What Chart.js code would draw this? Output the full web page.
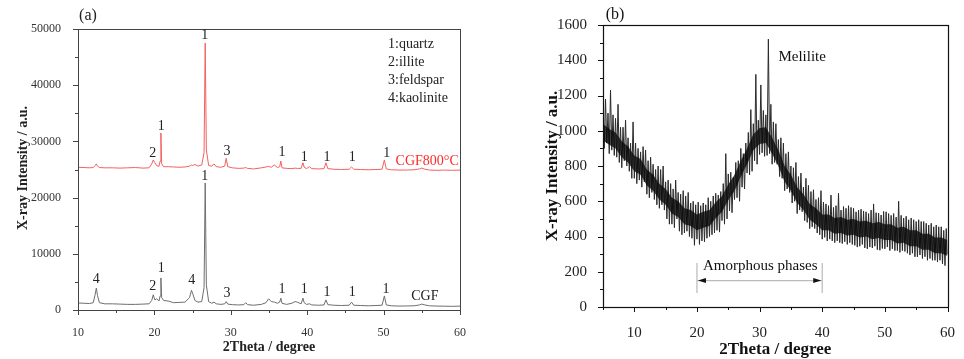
<!DOCTYPE html>
<html>
<head>
<meta charset="utf-8">
<script src="https://cdn.jsdelivr.net/npm/chart.js@4.4.1/dist/chart.umd.min.js"></script>
<style>
  html, body { margin: 0; padding: 0; background: #fff; }
  #wrap { position: relative; width: 964px; height: 359px; }
  #boxA { position: absolute; left: 0; top: 0; width: 480px; height: 359px; }
  #boxB { position: absolute; left: 480px; top: 0; width: 484px; height: 359px; }
</style>
</head>
<body>
<div id="wrap">
  <div id="boxA"><canvas id="chartA"></canvas></div>
  <div id="boxB"><canvas id="chartB"></canvas></div>
</div>
<script>
/* --- 1. DATA --- */
// panel (a): 2theta positions and intensities for the two samples
const thetaA = [10, 10.8, 11.5, 12.0, 12.25, 12.4, 12.55, 12.8, 13.5, 14.5, 15.5, 16.5, 17.5, 18.5, 19.3, 19.65, 19.85, 20.05, 20.3, 20.6,
  20.75, 20.85, 20.95, 21.2, 21.8, 22.5, 23.2, 24.0, 24.6, 24.85, 25.0, 25.3, 25.7, 26.2, 26.5, 26.65, 26.8, 27.1, 27.5, 27.8,
  28.1, 28.7, 29.2, 29.4, 29.6, 30.2, 31.0, 31.7, 31.95, 32.2, 33.0, 34.0, 34.6, 34.95, 35.3, 35.7, 36.1, 36.4, 36.55, 36.7,
  37.3, 38.0, 38.4, 38.7, 39.2, 39.45, 39.6, 39.9, 40.3, 40.6, 41.5, 42.2, 42.45, 42.7, 43.5, 44.5, 45.5, 45.8, 46.1, 47.0,
  48.0, 49.0, 49.8, 50.1, 50.35, 51.0, 52.0, 53.0, 54.0, 54.7, 55.0, 55.4, 56.0, 57.0, 58.0, 59.0, 60.0];

const cgf = [1250, 1200, 1150, 1300, 2800, 3900, 2600, 1300, 1100, 1100, 1050, 1000, 1000, 1050, 1100, 1700, 2700, 1800, 2000, 1600,
  2500, 5700, 2200, 1700, 1600, 1300, 1350, 1400, 2200, 3500, 3000, 1700, 1400, 1500, 4000, 22600, 4500, 1500, 1200, 1400,
  1100, 1000, 1100, 1500, 1050, 950, 900, 950, 1300, 950, 850, 1000, 1300, 2000, 1500, 1400, 1200, 1400, 2100, 1200,
  1000, 1200, 1500, 1400, 1100, 2100, 1300, 1000, 1100, 900, 850, 900, 1800, 950, 850, 800, 850, 1400, 850, 800,
  750, 800, 850, 2500, 900, 750, 700, 720, 750, 900, 1050, 900, 750, 700, 680, 650, 700];

const cgf800 = [25400, 25350, 25300, 25350, 25700, 26000, 25600, 25350, 25300, 25300, 25250, 25300, 25350, 25250, 25300, 26000, 26700, 26200, 25700, 25550,
  26500, 31500, 26000, 25500, 25500, 25450, 25400, 25450, 25600, 25800, 25700, 25900, 25600, 25800, 28000, 47500, 28500, 25700, 25600, 26000,
  25500, 25400, 25600, 27000, 25500, 25300, 25200, 25250, 25350, 25200, 25100, 25300, 25450, 25550, 25400, 25800, 25350, 25500, 26500, 25300,
  25200, 25150, 25250, 25200, 25200, 26200, 25400, 25150, 25500, 25150, 25100, 25150, 26200, 25150, 25050, 25000, 25050, 25450, 25050, 25000,
  24950, 25000, 25050, 26700, 25100, 24950, 24900, 24900, 24950, 25100, 25250, 25050, 24900, 24850, 24900, 24850, 24900];

// peak labels of panel (a): text, 2theta, intensity
const peakLabelsA = [
  ['2', 19.8, 27900], ['1', 20.9, 32700], ['1', 26.6, 48800], ['3', 29.5, 28300], ['1', 36.7, 28100],
  ['1', 39.6, 27200], ['1', 42.6, 27200], ['1', 45.9, 27200], ['1', 50.4, 27800],
  ['1', 26.6, 23700], ['4', 12.4, 5500], ['2', 19.8, 4300], ['1', 20.9, 7500], ['4', 24.9, 5200],
  ['3', 29.5, 3000], ['1', 36.7, 3700], ['1', 39.6, 3700], ['1', 42.6, 3200], ['1', 45.9, 3200], ['1', 50.3, 3700]
];
const legendA = ['1:quartz', '2:illite', '3:feldspar', '4:kaolinite'];

const xTicksA = [10, 20, 30, 40, 50, 60];
const xMinorA = [15, 25, 35, 45, 55];
const yTicksA = [0, 10000, 20000, 30000, 40000, 50000];
const yMinorA = [5000, 15000, 25000, 35000, 45000];

// panel (b): scan from 5 to 60 degree, step 0.2
const thetaStartB = 5;
const thetaStepB = 0.2;
const intensityB = [
  1060, 900, 1180, 930, 1100,   870, 1230, 890, 1090, 860,   1070, 850, 1150, 820, 1020,  790, 1020, 830, 1060, 800,
  960, 770, 930, 730, 1050,     730, 930, 700, 900, 720,     880, 680, 910, 710, 890,     640, 830, 620, 850, 650,
  810, 610, 780, 580, 800,      560, 780, 580, 800, 550,     710, 500, 720, 470, 700,     470, 670, 450, 720, 500,
  650, 430, 640, 410, 660,      420, 630, 430, 650, 400,     590, 390, 600, 350, 580,     385, 595, 355, 575, 375,
  590, 370, 580, 390, 620,      400, 600, 410, 630, 420,     645, 435, 635, 425, 655,     490, 700, 470, 870, 500,
  755, 545, 765, 535, 735,      610, 820, 620, 830, 600,     900, 680, 870, 670, 930,     760, 990, 750, 1120, 770,
  1040, 830, 1320, 810, 1060,   865, 1260, 875, 1115, 855,   1090, 860, 1520, 870, 1150,  810, 1050, 820, 1040, 810,
  950, 740, 960, 730, 930,      660, 870, 670, 880, 650,     800, 590, 790, 600, 820,     530, 740, 550, 760, 540,
  680, 490, 730, 480, 690,      445, 655, 455, 665, 445,     610, 420, 620, 410, 660,     385, 595, 395, 585, 375,
  575, 385, 635, 375, 565,      365, 575, 375, 645, 365,     550, 360, 570, 370, 560,     355, 575, 365, 565, 355,
  560, 350, 540, 340, 550,      345, 555, 355, 545, 335,     540, 330, 530, 340, 550,     335, 585, 345, 535, 325,
  532, 322, 522, 332, 542,      330, 540, 340, 530, 320,     520, 330, 530, 320, 510,     320, 600, 310, 520, 320,
  505, 315, 515, 305, 495,      295, 505, 305, 495, 285,     485, 285, 495, 295, 485,     275, 485, 285, 475, 265,
  465, 275, 475, 265, 455,      265, 465, 255, 455, 265,     455, 245, 435, 235, 445,
  300
];
// dense noise core of panel (b), one low/high pair per degree from 5 to 60
const coreLowB = [945, 920, 900, 850, 820, 770, 750, 690, 660, 610, 580, 530, 510, 470, 460, 435, 450, 460, 505, 540,
  605, 660, 740, 810, 890, 925, 930, 870, 800, 710, 660, 590, 550, 495, 470, 435, 435, 415, 420, 405,
  410, 395, 400, 385, 392, 380, 380, 360, 365, 345, 345, 325, 325, 305, 305, 290];
const coreHighB = [1040, 1010, 990, 940, 910, 860, 840, 780, 750, 700, 670, 620, 600, 560, 550, 525, 540, 550, 595, 630,
  695, 750, 830, 900, 980, 1015, 1020, 960, 890, 800, 750, 680, 640, 585, 560, 525, 525, 505, 510, 495,
  500, 485, 490, 475, 482, 470, 470, 450, 455, 435, 435, 415, 415, 395, 395, 380];

const xTicksB = [10, 20, 30, 40, 50, 60];
const xMinorB = [5, 15, 25, 35, 45, 55];
const yTicksB = [0, 200, 400, 600, 800, 1000, 1200, 1400, 1600];
const yMinorB = [100, 300, 500, 700, 900, 1100, 1300, 1500];
const amorphousRange = [20, 40];

/* --- 2. HELPERS --- */
const SERIF = "'Liberation Serif', 'Times New Roman', serif";

function drawTicks(chart, axis, values, len, color) {
  const ctx = chart.ctx, a = chart.chartArea, s = chart.scales[axis];
  ctx.save();
  ctx.strokeStyle = color;
  ctx.lineWidth = 1;
  ctx.beginPath();
  values.forEach(v => {
    const p = Math.round(s.getPixelForValue(v)) + 0.5;
    if (axis === 'x') { ctx.moveTo(p, a.bottom); ctx.lineTo(p, a.bottom + len); }
    else { ctx.moveTo(a.left, p); ctx.lineTo(a.left - len, p); }
  });
  ctx.stroke();
  ctx.restore();
}

function drawFrame(chart, color, width) {
  const ctx = chart.ctx, a = chart.chartArea;
  ctx.save();
  ctx.strokeStyle = color;
  ctx.lineWidth = width;
  ctx.strokeRect(Math.round(a.left) + 0.5, Math.round(a.top) + 0.5, Math.round(a.right - a.left), Math.round(a.bottom - a.top));
  ctx.restore();
}

function text(ctx, str, x, y, font, color, align) {
  ctx.save();
  ctx.font = font;
  ctx.fillStyle = color;
  ctx.textAlign = align || 'center';
  ctx.textBaseline = 'middle';
  ctx.fillText(str, x, y);
  ctx.restore();
}

function rotatedText(ctx, str, x, y, font, color) {
  ctx.save();
  ctx.translate(x, y);
  ctx.rotate(-Math.PI / 2);
  text(ctx, str, 0, 0, font, color);
  ctx.restore();
}

function fixedTicks(values) {
  return scale => { scale.ticks = values.map(v => ({ value: v })); };
}

const plainNumber = v => String(v);

/* --- 3. PANEL (a) --- */
const decorA = {
  id: 'decorA',
  afterDraw(chart) {
    const ctx = chart.ctx, a = chart.chartArea;
    const sx = chart.scales.x, sy = chart.scales.y;
    drawFrame(chart, '#444', 1);
    drawTicks(chart, 'x', xTicksA, 5, '#444');
    drawTicks(chart, 'x', xMinorA, 3, '#444');
    drawTicks(chart, 'y', yTicksA, 5, '#444');
    drawTicks(chart, 'y', yMinorA, 3, '#444');

    peakLabelsA.forEach(([t, x, y]) => {
      text(ctx, t, sx.getPixelForValue(x), sy.getPixelForValue(y), '14px ' + SERIF, '#222');
    });
    text(ctx, 'CGF800°C', sx.getPixelForValue(55.7), sy.getPixelForValue(26500), '14px ' + SERIF, '#ff2a2a');
    text(ctx, 'CGF', sx.getPixelForValue(55.4), sy.getPixelForValue(2500), '14px ' + SERIF, '#222');

    legendA.forEach((t, i) => {
      text(ctx, t, 388, 44 + i * 18, '14px ' + SERIF, '#222', 'left');
    });

    text(ctx, '(a)', 88, 16, '16px ' + SERIF, '#222');
    text(ctx, '2Theta / degree', (a.left + a.right) / 2, 347, 'bold 14px ' + SERIF, '#222');
    rotatedText(ctx, 'X-ray Intensity / a.u.', 23, 168, 'bold 14px ' + SERIF, '#222');
  }
};

function initChartA() {
  const ctx = document.getElementById('chartA').getContext('2d');
  new Chart(ctx, {
    type: 'line',
    data: {
      datasets: [
        {
          label: 'CGF800°C',
          data: thetaA.map((t, i) => ({ x: t, y: cgf800[i] })),
          borderColor: '#f26060',
          borderWidth: 1,
          pointRadius: 0,
          tension: 0
        },
        {
          label: 'CGF',
          data: thetaA.map((t, i) => ({ x: t, y: cgf[i] })),
          borderColor: '#6e6e6e',
          borderWidth: 1,
          pointRadius: 0,
          tension: 0
        }
      ]
    },
    options: {
      responsive: true,
      maintainAspectRatio: false,
      animation: false,
      layout: { padding: { top: 29, right: 20, left: 0, bottom: 0 } },
      plugins: { legend: { display: false }, tooltip: { enabled: false } },
      scales: {
        x: {
          type: 'linear', min: 10, max: 60,
          afterBuildTicks: fixedTicks(xTicksA),
          afterFit: s => { s.height = 49; },
          grid: { display: false },
          border: { display: false },
          ticks: { font: { family: SERIF, size: 12 }, color: '#333', padding: 8, maxRotation: 0, callback: plainNumber }
        },
        y: {
          min: 0, max: 50000,
          afterBuildTicks: fixedTicks(yTicksA),
          afterFit: s => { s.width = 78; },
          grid: { display: false },
          border: { display: false },
          ticks: { font: { family: SERIF, size: 12 }, color: '#333', padding: 9, callback: plainNumber }
        }
      }
    },
    plugins: [decorA]
  });
}

/* --- 4. PANEL (b) --- */
const decorB = {
  id: 'decorB',
  afterDraw(chart) {
    const ctx = chart.ctx, a = chart.chartArea;
    const sx = chart.scales.x, sy = chart.scales.y;
    drawFrame(chart, '#111', 1.2);
    drawTicks(chart, 'x', xTicksB, 5, '#111');
    drawTicks(chart, 'x', xMinorB, 3, '#111');
    drawTicks(chart, 'y', yTicksB, 5, '#111');
    drawTicks(chart, 'y', yMinorB, 3, '#111');

    // amorphous range marker
    const x1 = sx.getPixelForValue(amorphousRange[0]);
    const x2 = sx.getPixelForValue(amorphousRange[1]);
    const yTop = sy.getPixelForValue(250), yBot = sy.getPixelForValue(80), yArr = sy.getPixelForValue(150);
    ctx.save();
    ctx.strokeStyle = '#bbb';
    ctx.lineWidth = 1.2;
    ctx.beginPath();
    ctx.moveTo(x1, yTop); ctx.lineTo(x1, yBot);
    ctx.moveTo(x2, yTop); ctx.lineTo(x2, yBot);
    ctx.moveTo(x1, yArr); ctx.lineTo(x2, yArr);
    ctx.stroke();
    ctx.fillStyle = '#111';
    ctx.beginPath();
    ctx.moveTo(x1 + 1, yArr); ctx.lineTo(x1 + 9, yArr - 2.5); ctx.lineTo(x1 + 9, yArr + 2.5); ctx.closePath();
    ctx.moveTo(x2 - 1, yArr); ctx.lineTo(x2 - 9, yArr - 2.5); ctx.lineTo(x2 - 9, yArr + 2.5); ctx.closePath();
    ctx.fill();
    ctx.restore();

    text(ctx, 'Amorphous phases', sx.getPixelForValue(30.1), sy.getPixelForValue(233), '15px ' + SERIF, '#111');
    text(ctx, 'Melilite', sx.getPixelForValue(36.8), sy.getPixelForValue(1420), '15px ' + SERIF, '#111');

    text(ctx, '(b)', 135, 15, '16px ' + SERIF, '#111');
    text(ctx, '2Theta / degree', (a.left + a.right) / 2, 350, 'bold 17px ' + SERIF, '#111');
    rotatedText(ctx, 'X-ray Intensity / a.u.', 73, 166, 'bold 17px ' + SERIF, '#111');
  }
};

function initChartB() {
  const ctx = document.getElementById('chartB').getContext('2d');
  const coreX = coreLowB.map((v, i) => thetaStartB + i);
  new Chart(ctx, {
    type: 'line',
    data: {
      datasets: [
        {
          label: 'scan',
          data: intensityB.map((v, i) => ({ x: thetaStartB + i * thetaStepB, y: v })),
          borderColor: '#2b2b2b',
          borderWidth: 1,
          pointRadius: 0,
          tension: 0,
          order: 1
        },
        {
          label: 'core low',
          data: coreLowB.map((v, i) => ({ x: coreX[i], y: v })),
          borderWidth: 0,
          borderColor: 'rgba(0,0,0,0)',
          pointRadius: 0,
          tension: 0,
          order: 0
        },
        {
          label: 'core high',
          data: coreHighB.map((v, i) => ({ x: coreX[i], y: v })),
          borderWidth: 0,
          borderColor: 'rgba(0,0,0,0)',
          backgroundColor: 'rgba(5,5,5,0.75)',
          fill: '-1',
          pointRadius: 0,
          tension: 0,
          order: 0
        }
      ]
    },
    options: {
      responsive: true,
      maintainAspectRatio: false,
      animation: false,
      layout: { padding: { top: 25, right: 10, left: 0, bottom: 0 } },
      plugins: { legend: { display: false }, tooltip: { enabled: false } },
      scales: {
        x: {
          type: 'linear', min: 5, max: 60,
          afterBuildTicks: fixedTicks(xTicksB),
          afterFit: s => { s.height = 52; },
          grid: { display: false },
          border: { display: false },
          ticks: { font: { family: SERIF, size: 15 }, color: '#222', padding: 9, maxRotation: 0, callback: plainNumber }
        },
        y: {
          min: 0, max: 1600,
          afterBuildTicks: fixedTicks(yTicksB),
          afterFit: s => { s.width = 123; },
          grid: { display: false },
          border: { display: false },
          ticks: { font: { family: SERIF, size: 15 }, color: '#222', padding: 8, callback: plainNumber }
        }
      }
    },
    plugins: [decorB]
  });
}

/* --- 5. INIT --- */
initChartA();
initChartB();
</script>
</body>
</html>
